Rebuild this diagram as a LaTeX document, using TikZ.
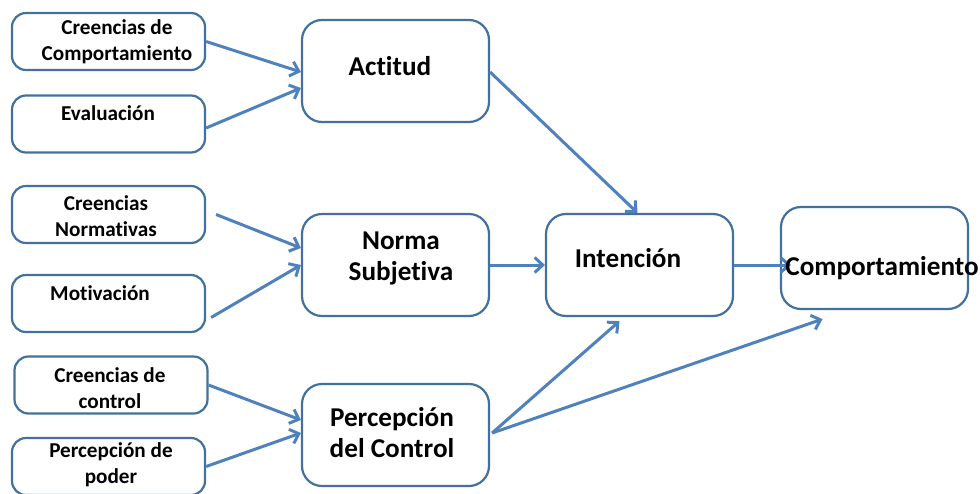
\documentclass[tikz,border=0pt]{standalone}
\usepackage{fontspec}
\setmainfont[Ligatures={NoCommon}]{Carlito}
\usepackage{tikz}
\usetikzlibrary{calc}
\usetikzlibrary{arrows.meta}
\definecolor{bordeazul}{HTML}{41719C}
\definecolor{flechaazul}{HTML}{4F81BD}

\begin{document}
\begin{tikzpicture}[
  x=1pt, y=-1pt,
  caja/.style={draw=bordeazul,line width=2.2pt,rounded corners=14pt,fill=white,
    minimum width=193pt,minimum height=57pt,inner sep=0pt},
  cajag/.style={caja,rounded corners=20pt,minimum width=187pt,minimum height=102pt},
  txt/.style={font=\bfseries\fontsize{21.2}{26}\selectfont,align=center,inner sep=0pt},
  txtg/.style={font=\bfseries\fontsize{27.2}{31}\selectfont,align=center,inner sep=0pt},
  flecha/.style={draw=flechaazul,line width=3pt,-{Straight Barb[length=8pt,width=15pt]}} % <-- flecha abierta
]
\useasboundingbox (0,0) rectangle (980,493);
\clip (0,0) rectangle (980,493);
% cajas pequeñas
\node[caja] (cb) at (108.5,41.5) {};
\node[caja] (ev) at (108.5,124) {};
\node[caja] (cn) at (108.5,214.5) {};
\node[caja] (mo) at (108.5,303.5) {};
\node[caja] (cc) at (111,385) {};
\node[caja] (pp) at (108.5,466.5) {};
% cajas grandes
\node[cajag] (act) at (395.5,71) {};
\node[cajag] (ns) at (395.5,265) {};
\node[cajag] (pc) at (395.5,435) {};
\node[cajag] (int) at (639.5,265) {};
\node[cajag] (comp) at (874.5,258) {};
% flechas
\draw[flecha] (cb.east) -- ($(act.west)+(0,1)$);
\draw[flecha] ($(ev.east)+(0,4)$) -- ($(act.west)+(0,17)$);
\draw[flecha] ($(cn.east)+(10,0)$) -- ($(ns.west)+(0,-17)$);
\draw[flecha] ($(mo.east)+(5,14)$) -- (ns.west);
\draw[flecha] (cc.east) -- ($(pc.west)+(0,-15)$);
\draw[flecha] (pp.east) -- ($(pc.west)+(0,-2)$);
\draw[flecha] ($(act.east)+(0,1)$) -- ($(int.north)+(-2,0)$);
\draw[flecha] (ns.east) -- (int.west);
\draw[flecha] ($(pc.east)+(2,-2)$) -- ($(int.south)+(-20,4)$);
\draw[flecha] ($(pc.east)+(2,-2)$) -- ($(comp.south)+(-52,9)$);
\draw[flecha] (int.east) -- ($(comp.west)+(11,7)$);
% textos
\node[txt] (cbt) at (117,42) {Creencias de\\Comportamiento};
\node[txt] (evt) at (108,113) {Evaluación};
\node[txt] (cnt) at (106,216) {Creencias\\Normativas};
\node[txt] (mot) at (100,293) {Motivación};
\node[txt] (cct) at (110,388) {Creencias de\\control};
\node[txt] (ppt) at (111,465) {Percepción de\\poder};
\node[txtg] (actt) at (390,66) {Actitud};
\node[txtg] (nst) at (401,258) {Norma\\Subjetiva};
\node[txtg] (pct) at (392,433) {Percepción\\del Control};
\node[txtg] (intt) at (628,258) {Intención};
\node[txtg] (compt) at (882,268) {Comportamiento};
\end{tikzpicture}
\end{document}
